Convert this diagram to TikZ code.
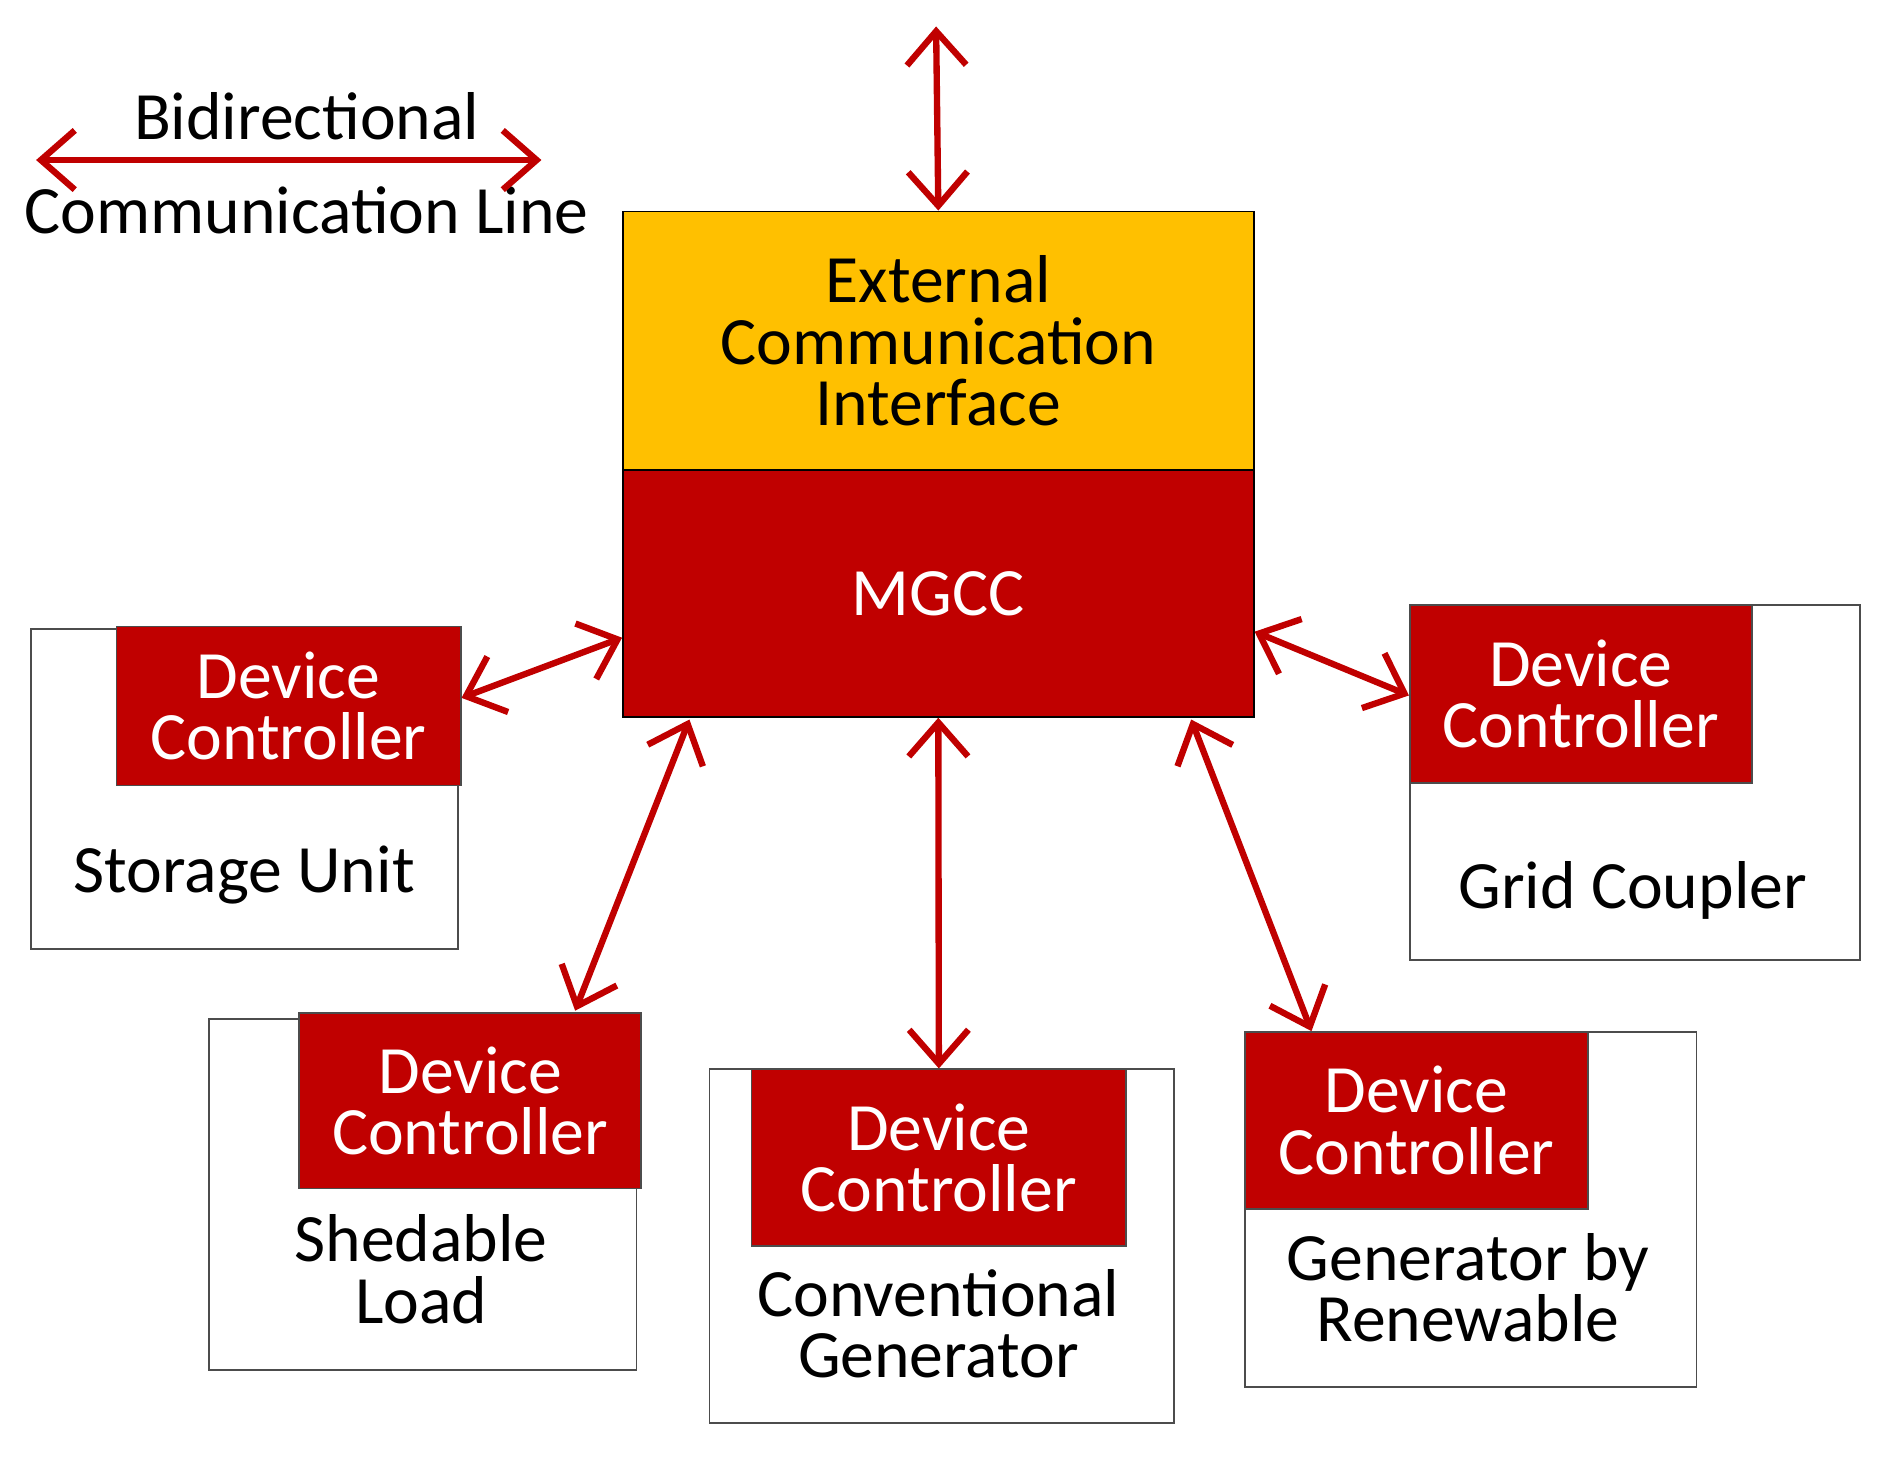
\documentclass[tikz,border=0pt]{standalone}
\usepackage{fontspec}
\setmainfont{Carlito}
\usepackage{xcolor}
\usetikzlibrary{arrows.meta, positioning}
\definecolor{dcred}{HTML}{C00000}
\definecolor{ecigold}{HTML}{FFC000}
\tikzset{arrow/.style={draw=dcred, line width=1.5pt, {Straight Barb[length=8pt,width=14pt,line width=1.5pt]}-{Straight Barb[length=8pt,width=14pt,line width=1.5pt]}}}

\begin{document}
\begin{tikzpicture}[x=0.01cm, y=-0.01cm]
	% Define styles for the different elements
	\tikzstyle{device} = [rectangle, draw=black!70, anchor=north west, inner sep=0pt, fill=white, thin]
	\tikzstyle{ctrl} = [rectangle, draw=black!70, anchor=north west, fill=dcred, text=white, align=center, inner sep=0pt, font=\fontsize{16}{14.5}\selectfont]
	\tikzstyle{lbl} = [align=center, font=\fontsize{16}{14.5}\selectfont]
	\useasboundingbox (0,0) rectangle (1560,1212);

	% Legend
	\node[lbl] (legtop) at (255,97) {Bidirectional};
	\node[lbl] (legbot) at (255,175) {Communication Line};
	\coordinate (legl) at (30,133);
	\coordinate (legr) at (450,133);
	\draw[arrow] (legl) -- (legr);

	% Central controller
	\node[rectangle, draw, anchor=north west, fill=ecigold, minimum width=5.24cm, minimum height=2.15cm, align=center, font=\fontsize{16}{14.5}\selectfont] (eci) at (517,175) {External\\Communication\\Interface};
	\node[rectangle, draw, anchor=north west, fill=dcred, text=white, minimum width=5.24cm, minimum height=2.05cm, font=\fontsize{16}{14.5}\selectfont] (mgcc) at (517,390) {MGCC};
	\coordinate (ext) at (778,22);
	\draw[arrow] (ext) -- (eci.north);

	% Storage unit
	\node[device, minimum width=3.55cm, minimum height=2.66cm] (storage) at (25,522) {};
	\node[ctrl, minimum width=2.86cm, minimum height=1.32cm] (dcstorage) at (96,520) {Device\\Controller};
	\node[lbl] (lstorage) at (203,727) {Storage Unit};

	% Shedable load
	\node[device, minimum width=3.55cm, minimum height=2.92cm] (shed) at (173,846) {};
	\node[ctrl, minimum width=2.84cm, minimum height=1.46cm] (dcshed) at (248,841) {Device\\Controller};
	\node[lbl] (lshed) at (350,1055) {Shedable\\Load};

	% Conventional generator
	\node[device, minimum width=3.86cm, minimum height=2.94cm] (conv) at (589,888) {};
	\node[ctrl, minimum width=3.11cm, minimum height=1.47cm] (dcconv) at (624,888) {Device\\Controller};
	\node[lbl] (lconv) at (780,1100) {Conventional\\Generator};

	% Renewable generator
	\node[device, minimum width=3.75cm, minimum height=2.95cm] (renew) at (1034,857) {};
	\node[ctrl, minimum width=2.85cm, minimum height=1.47cm] (dcrenew) at (1034,857) {Device\\Controller};
	\node[lbl] (lrenew) at (1220,1070) {Generator by\\Renewable};

	% Grid coupler
	\node[device, minimum width=3.74cm, minimum height=2.95cm] (grid) at (1171,502) {};
	\node[ctrl, minimum width=2.84cm, minimum height=1.48cm] (dcgrid) at (1171,502) {Device\\Controller};
	\node[lbl] (lgrid) at (1357,740) {Grid Coupler};

	% Communication lines
	\coordinate (mgccsw) at (573,598);
	\coordinate (mgccse) at (990,598);
	\coordinate (shedtop) at (478,840);
	\coordinate (renewtop) at (1090,857);
	\draw[arrow] (mgcc.west |- 0,530) -- (dcstorage.east |- 0,580);
	\draw[arrow] (mgccsw) -- (shedtop);
	\draw[arrow] (mgcc.south) -- (dcconv.north);
	\draw[arrow] (mgccse) -- (renewtop);
	\draw[arrow] (mgcc.east |- 0,525) -- (dcgrid.west |- 0,578);
\end{tikzpicture}
\end{document}
